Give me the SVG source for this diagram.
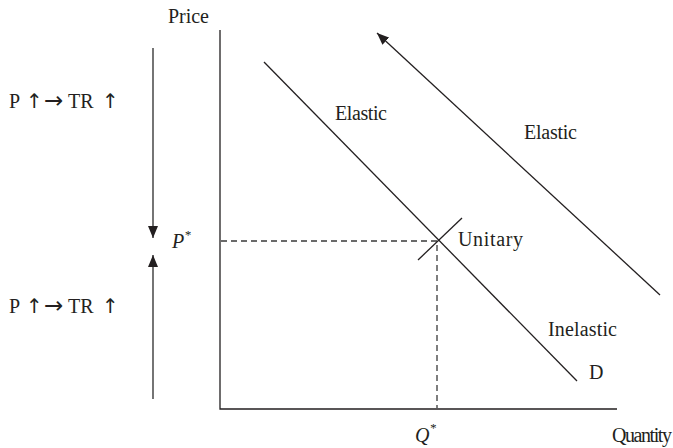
<svg xmlns="http://www.w3.org/2000/svg" width="673" height="448" viewBox="0 0 673 448">
<style>
.t{font-family:"Liberation Serif","Times New Roman",serif;font-size:20px;fill:#231f20}
.it{font-style:italic}
.au{font-family:"DejaVu Sans",sans-serif;font-size:20px}
.ar{font-family:"DejaVu Sans",sans-serif;font-size:23px}
.ln{stroke:#231f20;stroke-width:1.3;fill:none}
.gr{stroke:#3a3a3a;stroke-width:1.4;fill:none}
.ds{stroke:#3a3a3a;stroke-width:1.3;stroke-dasharray:6,4;fill:none}
</style>
<defs>
<marker id="ah" viewBox="0 0 12 10" refX="12" refY="5" markerWidth="12" markerHeight="10" markerUnits="userSpaceOnUse" orient="auto">
<path d="M0,0 L12,5 L0,10 Z" fill="#231f20"/>
</marker>
</defs>
<g id="axes">
<path class="ln" d="M220,30 V409 H617"/>
</g>
<g id="connectors">
<path class="ds" d="M221,241 H437 V408"/>
<line class="ln" x1="264" y1="62" x2="577" y2="381"/>
<line class="ln" x1="418" y1="260" x2="462" y2="218"/>
<line class="ln" x1="660" y1="295" x2="377" y2="33" marker-end="url(#ah)"/>
<line class="gr" x1="153" y1="48" x2="153" y2="238" marker-end="url(#ah)"/>
<line class="gr" x1="153" y1="399" x2="153" y2="255" marker-end="url(#ah)"/>
</g>
<g id="labels">
<text class="t" x="168" y="23" textLength="41">Price</text>
<text class="t" y="108"><tspan x="9">P</tspan><tspan class="au" x="26">↑</tspan><tspan class="ar" x="44">→</tspan><tspan x="68">TR</tspan><tspan class="au" x="102">↑</tspan></text>
<text class="t" y="313"><tspan x="9">P</tspan><tspan class="au" x="26">↑</tspan><tspan class="ar" x="44">→</tspan><tspan x="68">TR</tspan><tspan class="au" x="102">↑</tspan></text>
<text class="t it" x="172" y="248">P<tspan font-size="13" dy="-9">*</tspan></text>
<text class="t" x="335" y="120" textLength="52">Elastic</text>
<text class="t" x="524" y="139" textLength="53">Elastic</text>
<text class="t" x="458" y="246" textLength="65">Unitary</text>
<text class="t" x="548" y="336" textLength="69">Inelastic</text>
<text class="t" x="589" y="379">D</text>
<text class="t it" x="415" y="442">Q<tspan font-size="13" dy="-10">*</tspan></text>
<text class="t" x="612" y="442" textLength="60">Quantity</text>
</g>
</svg>
